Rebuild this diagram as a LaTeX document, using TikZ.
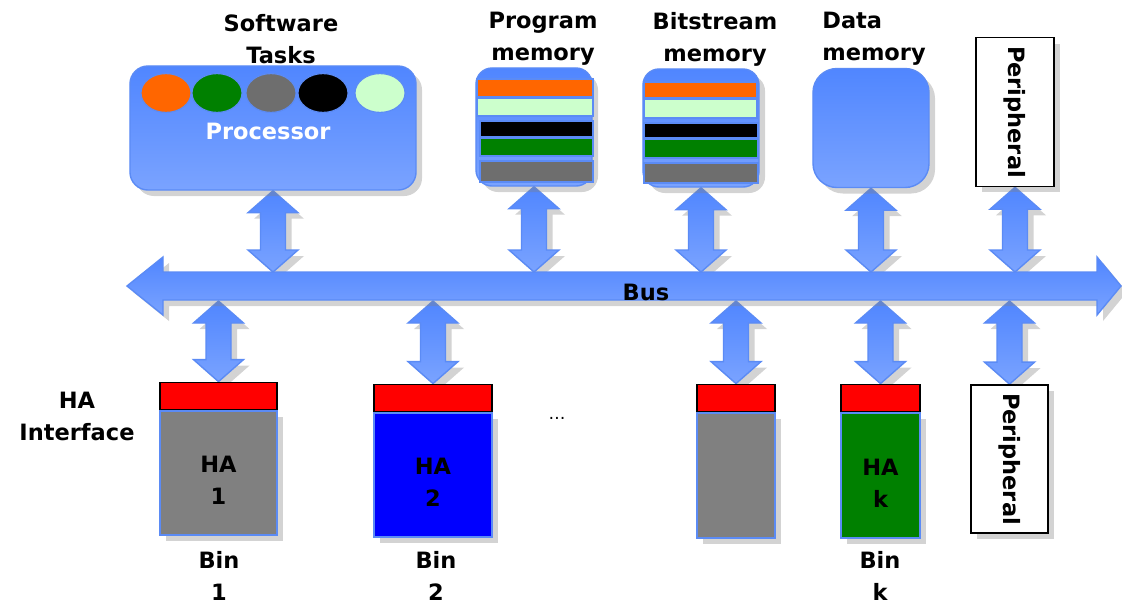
\documentclass[tikz,border=0pt]{standalone}
\usepackage{fontspec}
\setmainfont{DejaVu Sans}
\usetikzlibrary{shapes.geometric,shadows,calc,positioning,backgrounds}

\definecolor{busblue}{RGB}{80,134,255}
\definecolor{busblue2}{RGB}{122,163,255}
\definecolor{edgeblue}{RGB}{91,139,245}
\definecolor{taskorange}{RGB}{255,102,0}
\definecolor{taskgreen}{RGB}{0,128,0}
\definecolor{taskgray}{RGB}{110,110,110}
\definecolor{taskmint}{RGB}{204,255,204}
\definecolor{hagray}{RGB}{128,128,128}
\definecolor{hablue}{RGB}{0,0,255}

\tikzset{
  blueshade/.style={top color=busblue,bottom color=busblue2,draw=edgeblue,line width=1pt},
  shadowed/.style={drop shadow={shadow xshift=0.15cm,shadow yshift=-0.15cm,opacity=0.35}},
  lbl/.style={font=\bfseries\fontsize{16}{22.8}\selectfont,align=center,inner sep=0},
  memory/.style={blueshade,shadowed,rounded corners=0.4cm,minimum width=2.9cm,minimum height=2.95cm,inner sep=0},
  stripe/.style={draw=edgeblue,line width=0.8pt},
  task/.style={ellipse,draw=edgeblue,line width=0.8pt,minimum width=1.25cm,minimum height=0.97cm,inner sep=0},
  periph/.style={rectangle,draw,line width=1.2pt,fill=white,shadowed,lbl,minimum width=1.95cm,minimum height=3.72cm},
  iface/.style={rectangle,draw,line width=1.2pt,fill=red,minimum height=0.675cm,inner sep=0},
  accel/.style={rectangle,draw=edgeblue,line width=1pt,shadowed,lbl,minimum height=3.1cm},
  link/.style={blueshade,shadowed}
}

% block double arrow between two points on one vertical
\newcommand{\vlink}[2]{\path[link] (#1) -- ++(25,22) -- ++(-12.5,0) -- ($(#2)+(12.5,-22)$) -- ++(12.5,0) -- (#2) -- ++(-25,-22) -- ++(12.5,0) -- ($(#1)+(-12.5,22)$) -- ++(-12.5,0) -- cycle;}
% two centred lines, set a little low
\newcommand{\lowpair}[2]{\raisebox{0pt}[\dimexpr\height+13pt\relax][\depth]{\begin{tabular}{@{}c@{}}#1\\#2\end{tabular}}}

\begin{document}
\begin{tikzpicture}[x=0.025cm,y=-0.025cm]
\useasboundingbox (0,0) rectangle (1122,606);

% processor and its tasks
\node[blueshade,shadowed,rounded corners=0.45cm,minimum width=7.15cm,minimum height=3.1cm] (proc) at (273,128) {};
\foreach \c/\x [count=\i] in {taskorange/166,taskgreen/217,taskgray/271,black/323,taskmint/380}
  \node[task,fill=\c] (t\i) at (\x,93) {};
\node[lbl,text=white] (proclbl) at (268,131) {Processor};
\node[lbl] (swlbl) at (281,39) {Software\\Tasks};

% memories
\node[memory] (prog) at (534,127) {};
\foreach \c/\a/\b in {taskorange/79/97,taskmint/98/116}
  \draw[stripe,fill=\c] (477,\a) rectangle (593,\b);
\foreach \c/\a/\b in {black/121/137,taskgreen/138/156,taskgray/161/182}
  \draw[stripe,fill=\c] (480,\a) rectangle (593,\b);
\node[lbl] (proglbl) at (543,39) {Program\\memory};

\node[memory] (bits) at (701,128) {};
\foreach \c/\a/\b in {taskorange/82/98,taskmint/99/118}
  \draw[stripe,fill=\c] (644,\a) rectangle (757,\b);
\foreach \c/\a/\b in {black/123/138,taskgreen/139/158,taskgray/163/183}
  \draw[stripe,fill=\c] (644,\a) rectangle (758,\b);
\node[lbl] (bitslbl) at (715,39) {Bitstream\\memory};

\node[memory,rounded corners=0.6cm,minimum height=2.975cm] (data) at (871,128) {};
\node[lbl,align=left] (datalbl) at (874,39) {Data\\memory};

\node[periph] (per1) at (1015,112) {\rotatebox{-90}{Peripheral}};

% bus
\path[link] (127,286) -- (163,257) -- (163,272) -- (1097,272) -- (1097,257) -- (1121,286)
  -- (1097,315) -- (1097,300) -- (163,300) -- (163,315) -- cycle;
\coordinate (busN) at (640,272);
\coordinate (busS) at (640,301);
\node[lbl] (buslbl) at (646,292) {Bus};

% hardware accelerators
\node[accel,fill=hagray,minimum width=2.925cm] (ha1) at (218.5,473) {\lowpair{HA}{1}};
\node[iface,minimum width=2.925cm,above=0pt of ha1] (if1) {};
\node[accel,fill=hablue,minimum width=2.95cm] (ha2) at (433,475) {\lowpair{HA}{2}};
\node[iface,minimum width=2.95cm,above=0pt of ha2] (if2) {};
\node[accel,fill=hagray,minimum width=1.95cm,minimum height=3.125cm] (ha3) at (736,475.5) {};
\node[iface,minimum width=1.95cm,above=0pt of ha3] (if3) {};
\node[accel,fill=taskgreen,minimum width=1.975cm,minimum height=3.125cm] (hak) at (880.5,475.5) {\lowpair{HA}{k}};
\node[iface,minimum width=1.975cm,above=0pt of hak] (ifk) {};
\node[periph,minimum width=1.925cm,minimum height=3.7cm] (per2) at (1009.5,459) {\rotatebox{-90}{Peripheral}};

\node[lbl] (ifacelbl) at (77,416) {HA\\Interface};
\node[font=\fontsize{12}{14}\selectfont] (dots) at (557,418) {\dots};
\node[lbl] (bin1) at (219,576) {Bin\\1};
\node[lbl] (bin2) at (436,576) {Bin\\2};
\node[lbl] (bink) at (880,576) {Bin\\k};

% links to the bus
\begin{pgfonlayer}{background}
\foreach \n in {proc,prog,bits,data,per1} {
  \coordinate (\n-bus) at (\n.south |- busN);
  \vlink{\n.south}{\n-bus}
}
\foreach \n in {if1,if2,if3,ifk,per2} {
  \coordinate (\n-bus) at (\n.north |- busS);
  \vlink{\n-bus}{\n.north}
}
\end{pgfonlayer}

\end{tikzpicture}
\end{document}
